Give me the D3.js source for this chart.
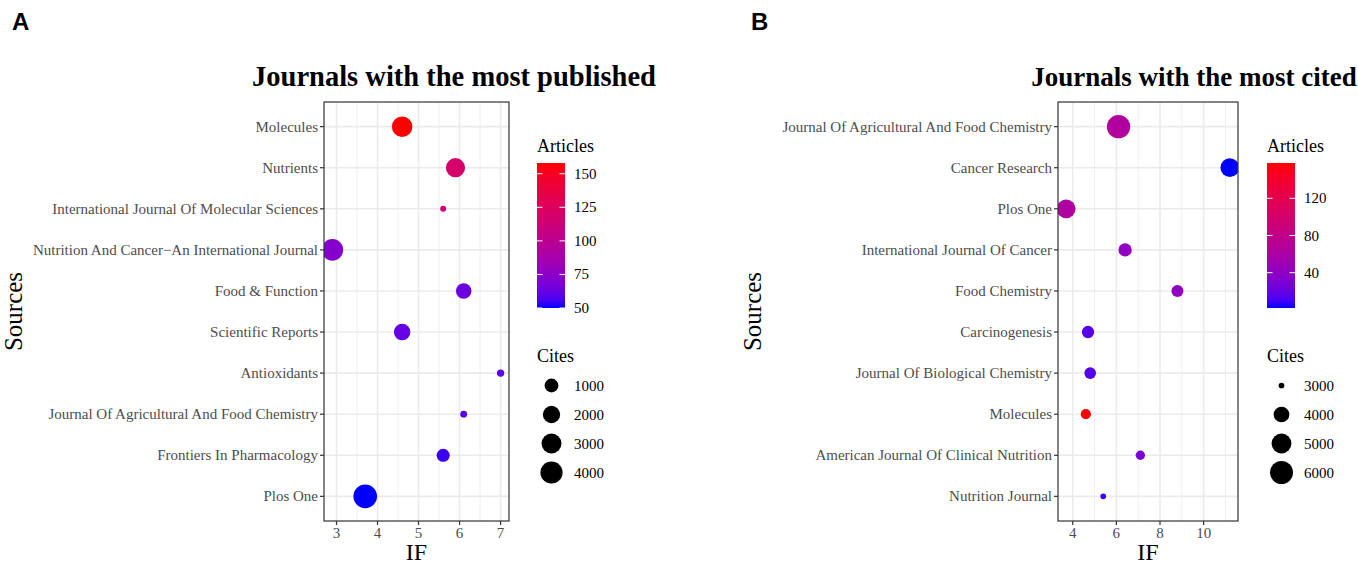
<!DOCTYPE html>
<html>
<head>
<meta charset="utf-8">
<script src="https://cdn.jsdelivr.net/npm/d3@7"></script>
<style>
  body { margin: 0; background: #fff; }
  svg { display: block; }
</style>
</head>
<body>
<script>
// panel A: journals with the most published
let sourcesA = ["Molecules", "Nutrients", "International Journal Of Molecular Sciences",
  "Nutrition And Cancer\u2212An International Journal", "Food & Function", "Scientific Reports",
  "Antioxidants", "Journal Of Agricultural And Food Chemistry", "Frontiers In Pharmacology", "Plos One"];
let ifA = [4.6, 5.9, 5.6, 2.9, 6.1, 4.6, 7.0, 6.1, 5.6, 3.7];
let articlesA = [158, 118, 112, 72, 64, 62, 60, 58, 54, 50];
let citesA = [3240, 2700, 100, 3700, 1440, 1740, 130, 110, 850, 4700];
let xTicksA = [3, 4, 5, 6, 7];
let articleTicksA = [50, 75, 100, 125, 150];
let citeBreaksA = [1000, 2000, 3000, 4000];

// panel B: journals with the most cited
let sourcesB = ["Journal Of Agricultural And Food Chemistry", "Cancer Research", "Plos One",
  "International Journal Of Cancer", "Food Chemistry", "Carcinogenesis", "Journal Of Biological Chemistry",
  "Molecules", "American Journal Of Clinical Nutrition", "Nutrition Journal"];
let ifB = [6.1, 11.2, 3.7, 6.4, 8.8, 4.7, 4.8, 4.6, 7.1, 5.4];
let articlesB = [65, 2, 64, 42, 42, 15, 14, 158, 28, 8];
let citesB = [6100, 4700, 4700, 3580, 3400, 3440, 3360, 3200, 3130, 3000];
let xTicksB = [4, 6, 8, 10];
let articleTicksB = [40, 80, 120];
let citeBreaksB = [3000, 4000, 5000, 6000];

let canvasW = 1358;
let canvasH = 566;
let serif = "'Liberation Serif', 'Times New Roman', serif";

let svg = d3.select("body").append("svg")
  .attr("width", canvasW)
  .attr("height", canvasH);

let defs = svg.append("defs");

function drawPanel(p) {
  let g = svg.append("g");

  // ggplot style 5% expansion on continuous x, 0.6 on discrete y
  let ext = d3.extent(p.ifs);
  let pad = (ext[1] - ext[0]) * 0.05;
  let x = d3.scaleLinear().domain([ext[0] - pad, ext[1] + pad]).range([p.left, p.right]);

  let n = p.sources.length;
  let y = d3.scaleLinear().domain([-0.6, n - 1 + 0.6]).range([p.top, p.bottom]);

  let colorT = d3.scaleLinear().domain(d3.extent(p.articles)).range([0, 1]);
  let colorOf = v => d3.interpolateLab("#0000ff", "#ff0000")(colorT(v));

  let sizeT = d3.scaleLinear().domain(d3.extent(p.cites)).range([0, 1]);
  let rOf = v => p.rMin + (p.rMax - p.rMin) * Math.sqrt(Math.max(0, sizeT(v)));

  // background grid
  let minor = [];
  let step = p.xTicks[1] - p.xTicks[0];
  for (let i = -1; i < p.xTicks.length; i++) {
    let v = p.xTicks[0] + step * (i + 0.5);
    if (v > x.domain()[0] && v < x.domain()[1]) minor.push(v);
  }
  g.selectAll().data(minor).enter().append("line")
    .attr("x1", d => x(d)).attr("x2", d => x(d))
    .attr("y1", p.top).attr("y2", p.bottom)
    .attr("stroke", "#ebebeb").attr("stroke-width", 0.8);
  g.selectAll().data(p.xTicks).enter().append("line")
    .attr("x1", d => x(d)).attr("x2", d => x(d))
    .attr("y1", p.top).attr("y2", p.bottom)
    .attr("stroke", "#ebebeb").attr("stroke-width", 1.6);
  g.selectAll().data(p.sources).enter().append("line")
    .attr("x1", p.left).attr("x2", p.right)
    .attr("y1", (d, i) => y(i)).attr("y2", (d, i) => y(i))
    .attr("stroke", "#ebebeb").attr("stroke-width", 1.6);

  // points
  let clipId = "clip" + p.id;
  defs.append("clipPath").attr("id", clipId).append("rect")
    .attr("x", p.left).attr("y", p.top)
    .attr("width", p.right - p.left).attr("height", p.bottom - p.top);

  g.append("g").attr("clip-path", "url(#" + clipId + ")")
    .selectAll().data(p.sources).enter().append("circle")
    .attr("cx", (d, i) => x(p.ifs[i]))
    .attr("cy", (d, i) => y(i))
    .attr("r", (d, i) => rOf(p.cites[i]))
    .attr("fill", (d, i) => colorOf(p.articles[i]));

  g.append("rect")
    .attr("x", p.left).attr("y", p.top)
    .attr("width", p.right - p.left).attr("height", p.bottom - p.top)
    .attr("fill", "none").attr("stroke", "#333333").attr("stroke-width", 1.2);

  // x axis
  g.selectAll().data(p.xTicks).enter().append("line")
    .attr("x1", d => x(d)).attr("x2", d => x(d))
    .attr("y1", p.bottom).attr("y2", p.bottom + 4)
    .attr("stroke", "#333333").attr("stroke-width", 1.2);
  g.selectAll().data(p.xTicks).enter().append("text")
    .attr("x", d => x(d)).attr("y", p.bottom + 17)
    .attr("text-anchor", "middle")
    .attr("font-family", serif).attr("font-size", "15px")
    .attr("fill", "#4d4d4d")
    .text(d => d);

  // y axis
  g.selectAll().data(p.sources).enter().append("line")
    .attr("x1", p.left - 4).attr("x2", p.left)
    .attr("y1", (d, i) => y(i)).attr("y2", (d, i) => y(i))
    .attr("stroke", "#333333").attr("stroke-width", 1.2);
  g.selectAll().data(p.sources).enter().append("text")
    .attr("x", p.left - 6).attr("y", (d, i) => y(i) + 5)
    .attr("text-anchor", "end")
    .attr("font-family", serif).attr("font-size", "15px")
    .attr("fill", "#4d4d4d")
    .text(d => d);

  // axis titles, plot title, tag
  g.append("text")
    .attr("x", (p.left + p.right) / 2).attr("y", 560)
    .attr("text-anchor", "middle")
    .attr("font-family", serif).attr("font-size", "24px")
    .text("IF");
  g.append("text")
    .attr("transform", "translate(" + (p.tagX + 10) + "," + ((p.top + p.bottom) / 2) + ") rotate(-90)")
    .attr("text-anchor", "middle")
    .attr("font-family", serif).attr("font-size", "25px")
    .text("Sources");
  g.append("text")
    .attr("x", p.titleX).attr("y", 86)
    .attr("text-anchor", "middle")
    .attr("font-family", serif).attr("font-size", p.titleSize).attr("font-weight", "bold")
    .text(p.title);
  g.append("text")
    .attr("x", p.tagX).attr("y", 30)
    .attr("font-family", "'Liberation Sans', Arial, sans-serif").attr("font-size", "24px").attr("font-weight", "bold")
    .text(p.tag);

  // colour bar legend
  let lx = p.legendX;
  let barTop = 163, barBottom = 308, barW = 28;
  let cb = d3.scaleLinear().domain(d3.extent(p.articles)).range([barBottom, barTop]);
  let gradId = "grad" + p.id;
  let grad = defs.append("linearGradient").attr("id", gradId)
    .attr("x1", 0).attr("y1", 1).attr("x2", 0).attr("y2", 0);
  grad.selectAll("stop").data(d3.range(0, 1.0001, 0.05)).enter().append("stop")
    .attr("offset", d => d)
    .attr("stop-color", d => d3.interpolateLab("#0000ff", "#ff0000")(d));

  g.append("text")
    .attr("x", lx).attr("y", 152)
    .attr("font-family", serif).attr("font-size", "18px")
    .text("Articles");
  g.append("rect")
    .attr("x", lx).attr("y", barTop).attr("width", barW).attr("height", barBottom - barTop)
    .attr("fill", "url(#" + gradId + ")");
  g.selectAll().data(p.articleTicks).enter().append("line")
    .attr("x1", lx).attr("x2", lx + 5.5)
    .attr("y1", d => cb(d)).attr("y2", d => cb(d))
    .attr("stroke", "#ffffff").attr("stroke-width", 1);
  g.selectAll().data(p.articleTicks).enter().append("line")
    .attr("x1", lx + barW - 5.5).attr("x2", lx + barW)
    .attr("y1", d => cb(d)).attr("y2", d => cb(d))
    .attr("stroke", "#ffffff").attr("stroke-width", 1);
  g.selectAll().data(p.articleTicks).enter().append("text")
    .attr("x", lx + barW + 9).attr("y", d => cb(d) + 5)
    .attr("font-family", serif).attr("font-size", "15px")
    .text(d => d);

  // size legend
  g.append("text")
    .attr("x", lx).attr("y", 362)
    .attr("font-family", serif).attr("font-size", "18px")
    .text("Cites");
  g.selectAll().data(p.citeBreaks).enter().append("circle")
    .attr("cx", lx + 14.5)
    .attr("cy", (d, i) => 385.5 + i * 29)
    .attr("r", d => rOf(d))
    .attr("fill", "#000000");
  g.selectAll().data(p.citeBreaks).enter().append("text")
    .attr("x", lx + barW + 9).attr("y", (d, i) => 385.5 + i * 29 + 5)
    .attr("font-family", serif).attr("font-size", "15px")
    .text(d => d);
}

drawPanel({
  id: "A", tag: "A", tagX: 12, title: "Journals with the most published", titleX: 454, titleSize: "28.5px",
  sources: sourcesA, ifs: ifA, articles: articlesA, cites: citesA,
  xTicks: xTicksA, articleTicks: articleTicksA, citeBreaks: citeBreaksA,
  left: 324, right: 509, top: 102, bottom: 521, legendX: 537,
  rMin: 3, rMax: 11.8
});

drawPanel({
  id: "B", tag: "B", tagX: 751, title: "Journals with the most cited", titleX: 1194, titleSize: "27px",
  sources: sourcesB, ifs: ifB, articles: articlesB, cites: citesB,
  xTicks: xTicksB, articleTicks: articleTicksB, citeBreaks: citeBreaksB,
  left: 1058, right: 1238, top: 102, bottom: 521, legendX: 1267,
  rMin: 2.85, rMax: 11.65
});
</script>
</body>
</html>
